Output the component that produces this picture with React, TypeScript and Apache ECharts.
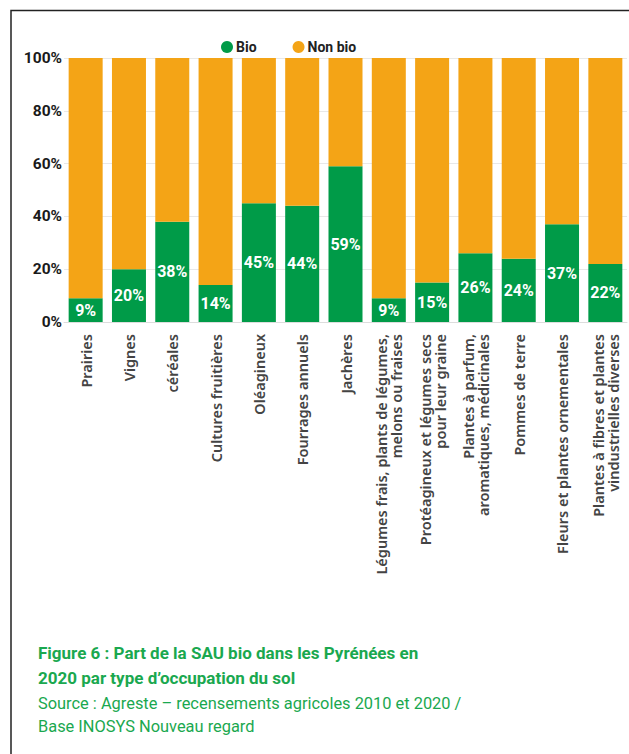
import React, { useEffect, useRef } from "react";
import * as echarts from "echarts";

const categories = [
  "Prairies",
  "Vignes",
  "céréales",
  "Cultures fruitières",
  "Oléagineux",
  "Fourrages annuels",
  "Jachères",
  "Légumes frais, plants de légumes,\nmelons ou fraises",
  "Protéagineux et légumes secs\npour leur graine",
  "Plantes à parfum,\naromatiques, médicinales",
  "Pommes de terre",
  "Fleurs et plantes ornementales",
  "Plantes à fibres et plantes\nvindustrielles diverses",
];
const bioValues = [9, 20, 38, 14, 45, 44, 59, 9, 15, 26, 24, 37, 22];
const nonBioValues = [91, 80, 62, 86, 55, 56, 41, 91, 85, 74, 76, 63, 78];
const yTicks = [0, 20, 40, 60, 80, 100];
const seriesNames = ["Bio", "Non bio"];
const titleLines = [
  "Figure 6 : Part de la SAU bio dans les Pyrénées en",
  "2020 par type d’occupation du sol",
];
const sourceLines = [
  "Source : Agreste – recensements agricoles 2010 et 2020 /",
  "Base INOSYS Nouveau regard",
];

const GREEN = "#009b48";
const ORANGE = "#f4a416";
const TEXT_GREEN = "#1aa84f";

export default function App() {
  const ref = useRef<HTMLDivElement>(null);
  useEffect(() => {
    if (!ref.current) return;
    const chart = echarts.init(ref.current, undefined, { renderer: "svg" });
    chart.setOption({
      animation: false,
      backgroundColor: "#ffffff",
      legend: {
        left: 216,
        top: 35,
        itemWidth: 12,
        itemHeight: 12,
        itemGap: 36,
        icon: "circle",
        data: seriesNames,
        textStyle: {
          fontFamily: "Roboto",
          fontWeight: "bold",
          fontSize: 14,
          color: "#222222",
          padding: [0, 0, 0, -2],
        },
      },
      title: [
        {
          left: 38,
          top: 640,
          text: titleLines.join("\n"),
          textStyle: {
            fontFamily: "Roboto",
            fontWeight: "bold",
            fontSize: 17,
            lineHeight: 25,
            color: TEXT_GREEN,
          },
          subtext: sourceLines.join("\n"),
          subtextStyle: {
            fontFamily: "Roboto",
            fontSize: 16.4,
            lineHeight: 23,
            color: TEXT_GREEN,
          },
          itemGap: 2,
          padding: 0,
        },
      ],
      grid: { left: 64, right: 2, top: 58, bottom: 432, containLabel: false },
      xAxis: {
        type: "category",
        data: categories,
        axisTick: { show: false },
        axisLine: { lineStyle: { color: "#dddddd", width: 1 } },
        axisLabel: {
          interval: 0,
          rotate: 90,
          margin: 12,
          fontFamily: "Noto Sans",
          fontWeight: 600,
          fontSize: 14.5,
          lineHeight: 15,
          color: "#444444",
        },
      },
      yAxis: {
        type: "value",
        min: yTicks[0],
        max: yTicks[yTicks.length - 1],
        interval: 20,
        axisLine: { show: false },
        axisTick: { show: false },
        splitLine: { lineStyle: { color: "#e8e8e8", width: 1 } },
        axisLabel: {
          margin: 2,
          formatter: "{value}%",
          fontFamily: "Roboto",
          fontWeight: "bold",
          fontSize: 15.5,
          color: "#1a1a1a",
        },
      },
      series: [
        {
          name: seriesNames[0],
          type: "bar",
          stack: "total",
          barWidth: 34,
          data: bioValues,
          itemStyle: { color: GREEN },
          label: {
            show: true,
            position: "inside",
            formatter: "{c}%",
            color: "#ffffff",
            fontFamily: "Roboto",
            fontWeight: "bold",
            fontSize: 16,
          },
        },
        {
          name: seriesNames[1],
          type: "bar",
          stack: "total",
          barWidth: 34,
          data: nonBioValues,
          itemStyle: { color: ORANGE },
        },
      ],
      graphic: [
        {
          type: "polyline",
          shape: {
            points: [
              [11, 754],
              [11, 10.5],
              [629, 10.5],
            ],
          },
          style: { stroke: "#222222", lineWidth: 1.5, fill: "none" },
        },
      ],
    });
    return () => chart.dispose();
  }, []);
  return (
    <div
      ref={ref}
      style={{ position: "fixed", left: 0, top: 0, width: 629, height: 754 }}
    />
  );
}
